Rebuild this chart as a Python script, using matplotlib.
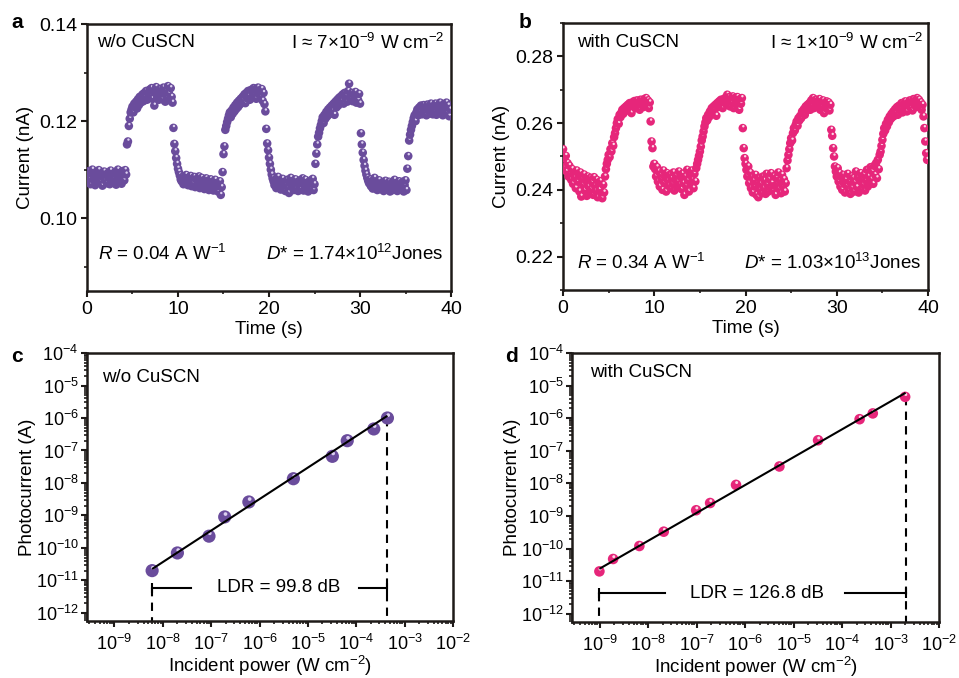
import numpy as np
import matplotlib
matplotlib.use("Agg")
import matplotlib.pyplot as plt
from matplotlib.path import Path
from matplotlib.collections import PathCollection
from matplotlib.transforms import Affine2D, IdentityTransform
from matplotlib.ticker import (MultipleLocator, FixedLocator, NullFormatter,
                               FormatStrFormatter, LogFormatterSciNotation)

plt.rcParams['font.family'] = ['Liberation Sans', 'DejaVu Sans']
plt.rcParams['mathtext.fontset'] = 'custom'
plt.rcParams['mathtext.rm'] = 'Liberation Sans'
plt.rcParams['mathtext.it'] = 'Liberation Sans:italic'
plt.rcParams['mathtext.bf'] = 'Liberation Sans:bold'
plt.rcParams['axes.unicode_minus'] = True

# ---------------- data ----------------
sample_interval = 0.1  # s

current_a = [
    0.1088, 0.1075, 0.1097, 0.1082, 0.1070, 0.1092, 0.1100, 0.1079, 0.1086, 0.1068,
    0.1094, 0.1081, 0.1073, 0.1099, 0.1087, 0.1076, 0.1091, 0.1067, 0.1084, 0.1096,
    0.1078, 0.1089, 0.1072, 0.1093, 0.1083, 0.1070, 0.1098, 0.1085, 0.1076, 0.1090,
    0.1081, 0.1095, 0.1069, 0.1087, 0.1100, 0.1074, 0.1092, 0.1080, 0.1071, 0.1097,
    0.1085, 0.1078, 0.1099, 0.1090, 0.1152, 0.1158, 0.1190, 0.1205, 0.1218, 0.1224,
    0.1230, 0.1218, 0.1236, 0.1228, 0.1240, 0.1226, 0.1245, 0.1233, 0.1250, 0.1238,
    0.1247, 0.1255, 0.1241, 0.1258, 0.1249, 0.1262, 0.1244, 0.1257, 0.1251, 0.1265,
    0.1253, 0.1268, 0.1246, 0.1260, 0.1232, 0.1262, 0.1270, 0.1250, 0.1259, 0.1244,
    0.1266, 0.1252, 0.1261, 0.1245, 0.1269, 0.1256, 0.1240, 0.1263, 0.1248, 0.1272,
    0.1257, 0.1243, 0.1268, 0.1250, 0.1238, 0.1186, 0.1153, 0.1138, 0.1124, 0.1112,
    0.1102, 0.1095, 0.1088, 0.1080, 0.1076, 0.1085, 0.1070, 0.1082, 0.1074, 0.1089,
    0.1077, 0.1068, 0.1084, 0.1072, 0.1087, 0.1066, 0.1079, 0.1071, 0.1085, 0.1064,
    0.1080, 0.1069, 0.1076, 0.1086, 0.1062, 0.1074, 0.1083, 0.1067, 0.1078, 0.1060,
    0.1073, 0.1082, 0.1065, 0.1077, 0.1058, 0.1070, 0.1080, 0.1063, 0.1075, 0.1057,
    0.1068, 0.1079, 0.1061, 0.1072, 0.1055, 0.1066, 0.1076, 0.1048, 0.1064, 0.1095,
    0.1132, 0.1148, 0.1182, 0.1190, 0.1198, 0.1205, 0.1212, 0.1218, 0.1208, 0.1222,
    0.1215, 0.1228, 0.1220, 0.1233, 0.1225, 0.1238, 0.1229, 0.1242, 0.1234, 0.1246,
    0.1238, 0.1250, 0.1242, 0.1255, 0.1237, 0.1258, 0.1247, 0.1262, 0.1251, 0.1244,
    0.1264, 0.1249, 0.1260, 0.1268, 0.1253, 0.1266, 0.1246, 0.1259, 0.1269, 0.1255,
    0.1263, 0.1250, 0.1266, 0.1242, 0.1258, 0.1235, 0.1220, 0.1184, 0.1154, 0.1140,
    0.1125, 0.1112, 0.1100, 0.1090, 0.1082, 0.1076, 0.1068, 0.1080, 0.1062, 0.1073,
    0.1085, 0.1066, 0.1077, 0.1059, 0.1071, 0.1081, 0.1064, 0.1074, 0.1056, 0.1069,
    0.1079, 0.1062, 0.1052, 0.1072, 0.1083, 0.1065, 0.1076, 0.1058, 0.1070, 0.1080,
    0.1061, 0.1074, 0.1056, 0.1068, 0.1078, 0.1060, 0.1072, 0.1082, 0.1057, 0.1069,
    0.1079, 0.1062, 0.1073, 0.1055, 0.1067, 0.1077, 0.1059, 0.1071, 0.1081, 0.1058,
    0.1070, 0.1112, 0.1133, 0.1152, 0.1168, 0.1176, 0.1185, 0.1192, 0.1200, 0.1208,
    0.1196, 0.1213, 0.1205, 0.1219, 0.1210, 0.1224, 0.1214, 0.1228, 0.1218, 0.1232,
    0.1222, 0.1236, 0.1213, 0.1240, 0.1228, 0.1244, 0.1232, 0.1248, 0.1238, 0.1251,
    0.1241, 0.1255, 0.1236, 0.1258, 0.1246, 0.1252, 0.1240, 0.1262, 0.1277, 0.1248,
    0.1245, 0.1258, 0.1241, 0.1254, 0.1247, 0.1260, 0.1238, 0.1252, 0.1243, 0.1256,
    0.1236, 0.1175, 0.1152, 0.1135, 0.1120, 0.1108, 0.1098, 0.1090, 0.1083, 0.1077,
    0.1072, 0.1080, 0.1066, 0.1076, 0.1061, 0.1073, 0.1083, 0.1064, 0.1070, 0.1058,
    0.1068, 0.1078, 0.1060, 0.1071, 0.1065, 0.1074, 0.1056, 0.1067, 0.1077, 0.1059,
    0.1070, 0.1062, 0.1075, 0.1055, 0.1066, 0.1073, 0.1058, 0.1069, 0.1079, 0.1061,
    0.1072, 0.1056, 0.1066, 0.1076, 0.1059, 0.1070, 0.1063, 0.1075, 0.1055, 0.1068,
    0.1078, 0.1058, 0.1102, 0.1128, 0.1160, 0.1172, 0.1182, 0.1190, 0.1198, 0.1206,
    0.1212, 0.1200, 0.1218, 0.1224, 0.1212, 0.1228, 0.1219, 0.1232, 0.1214, 0.1226,
    0.1233, 0.1218, 0.1228, 0.1212, 0.1234, 0.1222, 0.1229, 0.1216, 0.1236, 0.1224,
    0.1214, 0.1231, 0.1220, 0.1236, 0.1213, 0.1227, 0.1233, 0.1218, 0.1238, 0.1222,
    0.1230, 0.1212, 0.1235, 0.1220, 0.1228, 0.1238, 0.1216, 0.1232, 0.1210, 0.1224,
]

current_b = [
    0.2522, 0.2495, 0.2468, 0.2502, 0.2455, 0.2480, 0.2440, 0.2472, 0.2448, 0.2430,
    0.2462, 0.2418, 0.2450, 0.2436, 0.2405, 0.2458, 0.2425, 0.2442, 0.2395, 0.2452,
    0.2380, 0.2432, 0.2415, 0.2446, 0.2398, 0.2428, 0.2382, 0.2440, 0.2410, 0.2392,
    0.2436, 0.2402, 0.2422, 0.2385, 0.2438, 0.2412, 0.2396, 0.2430, 0.2378, 0.2418,
    0.2400, 0.2426, 0.2388, 0.2375, 0.2415, 0.2392, 0.2440, 0.2462, 0.2478, 0.2490,
    0.2505, 0.2498, 0.2522, 0.2515, 0.2540, 0.2532, 0.2558, 0.2570, 0.2585, 0.2600,
    0.2612, 0.2598, 0.2625, 0.2618, 0.2632, 0.2640, 0.2628, 0.2645, 0.2636, 0.2650,
    0.2642, 0.2655, 0.2638, 0.2660, 0.2648, 0.2630, 0.2662, 0.2652, 0.2666, 0.2645,
    0.2658, 0.2668, 0.2650, 0.2662, 0.2640, 0.2670, 0.2655, 0.2665, 0.2648, 0.2672,
    0.2660, 0.2675, 0.2652, 0.2668, 0.2645, 0.2662, 0.2605, 0.2545, 0.2525, 0.2470,
    0.2478, 0.2462, 0.2440, 0.2468, 0.2425, 0.2455, 0.2410, 0.2445, 0.2432, 0.2400,
    0.2458, 0.2420, 0.2438, 0.2395, 0.2450, 0.2428, 0.2412, 0.2445, 0.2405, 0.2435,
    0.2418, 0.2452, 0.2398, 0.2430, 0.2442, 0.2408, 0.2425, 0.2455, 0.2415, 0.2438,
    0.2402, 0.2448, 0.2420, 0.2385, 0.2440, 0.2412, 0.2460, 0.2428, 0.2395, 0.2445,
    0.2418, 0.2458, 0.2430, 0.2405, 0.2448, 0.2425, 0.2465, 0.2478, 0.2490, 0.2502,
    0.2515, 0.2530, 0.2548, 0.2560, 0.2575, 0.2590, 0.2602, 0.2615, 0.2608, 0.2625,
    0.2618, 0.2635, 0.2628, 0.2645, 0.2632, 0.2650, 0.2640, 0.2655, 0.2622, 0.2660,
    0.2648, 0.2665, 0.2652, 0.2670, 0.2658, 0.2645, 0.2672, 0.2662, 0.2676, 0.2655,
    0.2685, 0.2666, 0.2678, 0.2650, 0.2672, 0.2662, 0.2680, 0.2645, 0.2675, 0.2668,
    0.2655, 0.2678, 0.2662, 0.2640, 0.2672, 0.2658, 0.2675, 0.2585, 0.2525, 0.2495,
    0.2478, 0.2460, 0.2440, 0.2470, 0.2420, 0.2452, 0.2405, 0.2438, 0.2392, 0.2428,
    0.2410, 0.2445, 0.2385, 0.2422, 0.2378, 0.2435, 0.2400, 0.2418, 0.2390, 0.2440,
    0.2405, 0.2428, 0.2388, 0.2448, 0.2415, 0.2395, 0.2432, 0.2408, 0.2450, 0.2420,
    0.2398, 0.2440, 0.2412, 0.2385, 0.2436, 0.2418, 0.2452, 0.2402, 0.2428, 0.2390,
    0.2445, 0.2410, 0.2432, 0.2395, 0.2420, 0.2465, 0.2488, 0.2505, 0.2522, 0.2540,
    0.2555, 0.2548, 0.2570, 0.2585, 0.2578, 0.2595, 0.2605, 0.2592, 0.2615, 0.2608,
    0.2622, 0.2615, 0.2635, 0.2628, 0.2642, 0.2625, 0.2650, 0.2638, 0.2655, 0.2645,
    0.2660, 0.2640, 0.2668, 0.2652, 0.2675, 0.2645, 0.2662, 0.2670, 0.2650, 0.2665,
    0.2655, 0.2672, 0.2640, 0.2662, 0.2648, 0.2668, 0.2630, 0.2658, 0.2645, 0.2665,
    0.2650, 0.2662, 0.2638, 0.2655, 0.2580, 0.2562, 0.2525, 0.2500, 0.2470, 0.2455,
    0.2440, 0.2465, 0.2425, 0.2450, 0.2410, 0.2438, 0.2400, 0.2445, 0.2418, 0.2392,
    0.2430, 0.2412, 0.2448, 0.2398, 0.2425, 0.2388, 0.2440, 0.2405, 0.2435, 0.2395,
    0.2422, 0.2455, 0.2408, 0.2438, 0.2392, 0.2428, 0.2450, 0.2402, 0.2432, 0.2415,
    0.2445, 0.2398, 0.2428, 0.2460, 0.2410, 0.2440, 0.2420, 0.2468, 0.2432, 0.2455,
    0.2418, 0.2472, 0.2445, 0.2480, 0.2435, 0.2490, 0.2462, 0.2505, 0.2515, 0.2532,
    0.2550, 0.2568, 0.2585, 0.2578, 0.2598, 0.2590, 0.2610, 0.2602, 0.2620, 0.2612,
    0.2628, 0.2618, 0.2635, 0.2622, 0.2642, 0.2630, 0.2648, 0.2625, 0.2652, 0.2638,
    0.2645, 0.2660, 0.2632, 0.2655, 0.2640, 0.2665, 0.2648, 0.2635, 0.2660, 0.2652,
    0.2668, 0.2645, 0.2662, 0.2638, 0.2672, 0.2655, 0.2665, 0.2648, 0.2675, 0.2658,
    0.2670, 0.2650, 0.2662, 0.2640, 0.2655, 0.2620, 0.2585, 0.2545, 0.2510, 0.2490,
]

# panel c: without CuSCN
power_c = [6e-9, 2.0e-8, 9e-8, 1.9e-7, 6e-7, 5e-6, 3.2e-5, 6.5e-5, 2.3e-4, 4.4e-4]
photo_c = [2.0e-11, 7e-11, 2.3e-10, 9e-10, 2.6e-9, 1.35e-8, 6.6e-8, 2.0e-7, 4.6e-7, 1.0e-6]
fit_c_x = [6e-9, 4.4e-4]
fit_c_y = [2.24e-11, 1.17e-6]
ldr_c = "LDR = 99.8 dB"

# panel d: with CuSCN
power_d = [9.9e-10, 1.9e-9, 6.6e-9, 2.1e-8, 9.8e-8, 1.9e-7, 6.5e-7, 5.1e-6, 3.2e-5, 2.3e-4, 4.3e-4, 2.0e-3]
photo_d = [2.0e-11, 4.8e-11, 1.2e-10, 3.3e-10, 1.5e-9, 2.5e-9, 9e-9, 3.3e-8, 2.1e-7, 9.3e-7, 1.4e-6, 4.5e-6]
fit_d_x = [9.9e-10, 2.04e-3]
fit_d_y = [2.4e-11, 6.0e-6]
ldr_d = "LDR = 126.8 dB"

# log-axis tick decades
x_decades = [1e-9, 1e-8, 1e-7, 1e-6, 1e-5, 1e-4, 1e-3, 1e-2]
y_decades = [1e-12, 1e-11, 1e-10, 1e-9, 1e-8, 1e-7, 1e-6, 1e-5, 1e-4]

purple = '#6A4C9C'
purple_hl = '#DCD0F0'
pink = '#E6267A'
pink_hl = '#FCD6E6'
spine_col = '#1e1a18'

# ---------------- helpers ----------------
BIG = Path.unit_circle().transformed(Affine2D().scale(0.5))
HL = Path.unit_circle().transformed(Affine2D().scale(0.14).translate(0.06, 0.22))


def sphere_scatter(ax, x, y, size, color, hl_color, zorder=3):
    xy = np.repeat(np.column_stack([np.asarray(x, float), np.asarray(y, float)]), 2, axis=0)
    coll = PathCollection([BIG, HL], sizes=[size], offsets=xy,
                          offset_transform=ax.transData,
                          facecolors=[color, hl_color], edgecolors='none',
                          linewidths=0, zorder=zorder)
    coll.set_transform(IdentityTransform())
    ax.add_collection(coll, autolim=False)


def style_axes(ax, fs, pad=3):
    for s in ax.spines.values():
        s.set_linewidth(1.8)
        s.set_color(spine_col)
    ax.tick_params(which='major', direction='out', length=4, width=1.5,
                   labelsize=fs, color=spine_col, pad=pad)
    ax.tick_params(which='minor', direction='out', length=2.5, width=1.2, color=spine_col)


def minor_in_range(lo, hi):
    vals = []
    d = 10.0 ** np.floor(np.log10(lo))
    while d < hi:
        for m in range(2, 10):
            v = m * d
            if lo < v < hi:
                vals.append(v)
        d *= 10
    return vals


fig = plt.figure(figsize=(9.59, 6.78), dpi=100)

ax_a = fig.add_axes([0.0907, 0.5708, 0.3796, 0.3938])
ax_b = fig.add_axes([0.5871, 0.5723, 0.3806, 0.3938])
ax_c = fig.add_axes([0.0907, 0.0836, 0.3817, 0.3957])
ax_d = fig.add_axes([0.5965, 0.0822, 0.3827, 0.3972])

TS_SIZE = 38
NOTE_FS = 13.5

# ---------- panel a ----------
t_a = np.arange(len(current_a)) * sample_interval
sphere_scatter(ax_a, t_a, current_a, TS_SIZE, purple, purple_hl)
ax_a.set_xlim(0, 40)
ax_a.set_ylim(0.085, 0.14)
ax_a.xaxis.set_major_locator(MultipleLocator(10))
ax_a.xaxis.set_minor_locator(MultipleLocator(5))
ax_a.yaxis.set_major_locator(MultipleLocator(0.02))
ax_a.yaxis.set_minor_locator(MultipleLocator(0.01))
ax_a.yaxis.set_major_formatter(FormatStrFormatter('%.2f'))
style_axes(ax_a, 14)
ax_a.set_xlabel('Time (s)', fontsize=13.5, labelpad=2.5)
ax_a.set_ylabel('Current (nA)', fontsize=13.5, labelpad=4)
ax_a.text(0.027, 0.93, 'w/o CuSCN', transform=ax_a.transAxes, fontsize=NOTE_FS, va='center', ha='left')
ax_a.text(0.981, 0.93, 'I ≈ 7×10$^{-9}$ W cm$^{-2}$', transform=ax_a.transAxes, fontsize=NOTE_FS,
          va='center', ha='right')
ax_a.text(0.031, 0.139, '$\\it{R}$ = 0.04 A W$^{-1}$', transform=ax_a.transAxes, fontsize=NOTE_FS,
          va='center', ha='left')
ax_a.text(0.977, 0.139, '$\\it{D}$* = 1.74×10$^{12}$Jones', transform=ax_a.transAxes, fontsize=NOTE_FS,
          va='center', ha='right')

# ---------- panel b ----------
t_b = np.arange(len(current_b)) * sample_interval
sphere_scatter(ax_b, t_b, current_b, TS_SIZE, pink, pink_hl)
ax_b.set_xlim(0, 40)
ax_b.set_ylim(0.21, 0.29)
ax_b.xaxis.set_major_locator(MultipleLocator(10))
ax_b.xaxis.set_minor_locator(MultipleLocator(5))
ax_b.yaxis.set_major_locator(MultipleLocator(0.02))
ax_b.yaxis.set_minor_locator(MultipleLocator(0.01))
ax_b.yaxis.set_major_formatter(FormatStrFormatter('%.2f'))
style_axes(ax_b, 14)
ax_b.set_xlabel('Time (s)', fontsize=13.5, labelpad=2.5)
ax_b.set_ylabel('Current (nA)', fontsize=13.5, labelpad=4)
ax_b.text(0.039, 0.926, 'with CuSCN', transform=ax_b.transAxes, fontsize=NOTE_FS, va='center', ha='left')
ax_b.text(0.987, 0.926, 'I ≈ 1×10$^{-9}$ W cm$^{-2}$', transform=ax_b.transAxes, fontsize=NOTE_FS,
          va='center', ha='right')
ax_b.text(0.039, 0.10, '$\\it{R}$ = 0.34 A W$^{-1}$', transform=ax_b.transAxes, fontsize=NOTE_FS,
          va='center', ha='left')
ax_b.text(0.98, 0.10, '$\\it{D}$* = 1.03×10$^{13}$Jones', transform=ax_b.transAxes, fontsize=NOTE_FS,
          va='center', ha='right')


# ---------- log panels ----------
def log_panel(ax, px, py, fx, fy, color, hl, size, ldr, ldr_y, seg_l, seg_r, text_x):
    ax.set_xscale('log')
    ax.set_yscale('log')
    xlo, xhi = 2.7e-10, 1e-2
    ylo, yhi = 5.5e-13, 1e-4
    ax.set_xlim(xlo, xhi)
    ax.set_ylim(ylo, yhi)
    sphere_scatter(ax, px, py, size, color, hl, zorder=3)
    ax.plot(fx, fy, color='k', lw=1.5, zorder=4, solid_capstyle='butt')
    ax.plot([fx[0], fx[0]], [ldr_y, ylo], color='k', lw=1.5, ls=(0, (4, 3)), zorder=2)
    ax.plot([fx[1], fx[1]], [py[-1], ylo], color='k', lw=1.5, ls=(0, (4, 3)), zorder=2)
    ax.plot([fx[0], seg_l], [ldr_y, ldr_y], color='k', lw=1.5, zorder=2)
    ax.plot([seg_r, fx[1]], [ldr_y, ldr_y], color='k', lw=1.5, zorder=2)
    ax.plot([fx[0], fx[1]], [ldr_y, ldr_y], ls='none', marker='|', ms=7, mew=1.5, color='k')
    ax.text(text_x, ldr_y, ldr, fontsize=13.5, ha='center', va='center')
    ax.xaxis.set_major_locator(FixedLocator(x_decades))
    ax.yaxis.set_major_locator(FixedLocator(y_decades))
    ax.xaxis.set_major_formatter(LogFormatterSciNotation())
    ax.yaxis.set_major_formatter(LogFormatterSciNotation())
    ax.xaxis.set_minor_locator(FixedLocator(minor_in_range(xlo, xhi)))
    ax.yaxis.set_minor_locator(FixedLocator(minor_in_range(ylo, yhi)))
    ax.xaxis.set_minor_formatter(NullFormatter())
    ax.yaxis.set_minor_formatter(NullFormatter())
    style_axes(ax, 13, pad=2)
    ax.tick_params(axis='x', which='major', pad=5)
    ax.set_xlabel('Incident power (W cm$^{-2}$)', fontsize=13.5, labelpad=0)
    ax.set_ylabel('Photocurrent (A)', fontsize=13.5, labelpad=0)


log_panel(ax_c, power_c, photo_c, fit_c_x, fit_c_y, purple, purple_hl, 90,
          ldr_c, 5.9e-12, 3.9e-8, 1.12e-4, 2.5e-6)
ax_c.text(0.04, 0.91, 'w/o CuSCN', transform=ax_c.transAxes, fontsize=NOTE_FS, va='center', ha='left')

log_panel(ax_d, power_d, photo_d, fit_d_x, fit_d_y, pink, pink_hl, 58,
          ldr_d, 4.2e-12, 2.2e-8, 1.17e-4, 1.74e-6)
ax_d.text(0.05, 0.926, 'with CuSCN', transform=ax_d.transAxes, fontsize=NOTE_FS, va='center', ha='left')

# panel letters
fig.text(17 / 959, 1 - 22 / 678, 'a', fontsize=15, fontweight='bold', va='center', ha='center')
fig.text(525 / 959, 1 - 23 / 678, 'b', fontsize=15, fontweight='bold', va='center', ha='center')
fig.text(17 / 959, 1 - 357 / 678, 'c', fontsize=15, fontweight='bold', va='center', ha='center')
fig.text(512 / 959, 1 - 357 / 678, 'd', fontsize=15, fontweight='bold', va='center', ha='center')

fig.savefig('out.png', dpi=100)
